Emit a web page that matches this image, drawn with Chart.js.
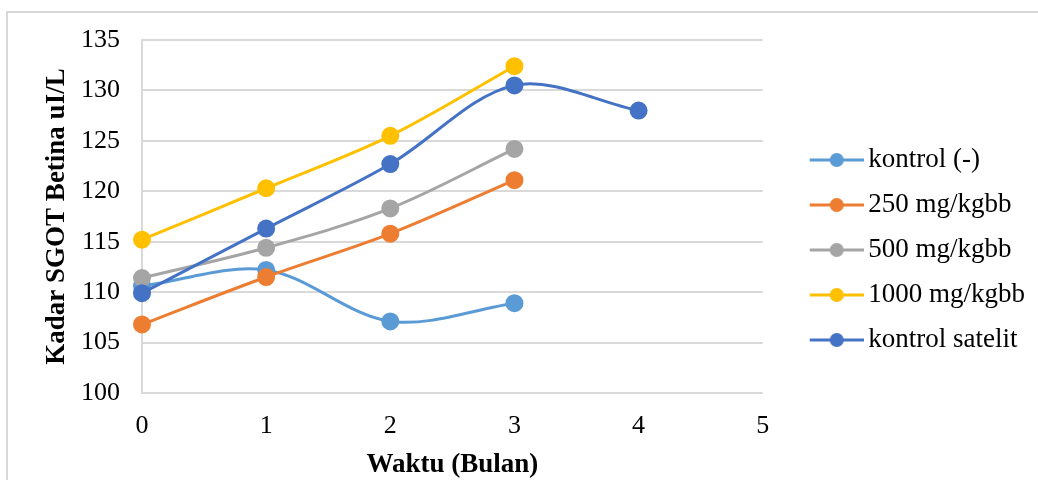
<!DOCTYPE html>
<html lang="en">
<head>
    <meta charset="UTF-8"/>
    <script src="https://cdn.jsdelivr.net/npm/chart.js@4.4.1/dist/chart.umd.min.js"></script>
    <title>Kadar SGOT Betina</title>
    <style>
        html, body { margin: 0; padding: 0; background: #fff; }
        #wrap { width: 1038px; height: 480px; }
    </style>
</head>
<body>
<div id="wrap"><canvas id="sgotChart" width="1038" height="480"></canvas></div>

<script>
    // data
    const months = ['0', '1', '2', '3', '4', '5'];
    const seriesNames = ['kontrol (-)', '250 mg/kgbb', '500 mg/kgbb', '1000 mg/kgbb', 'kontrol satelit'];
    const kontrolNeg = [110.6, 112.2, 107.1, 108.9];
    const dose250 = [106.8, 111.5, 115.8, 121.1];
    const dose500 = [111.4, 114.4, 118.3, 124.2];
    const dose1000 = [115.2, 120.3, 125.5, 132.4];
    const kontrolSatelit = [109.9, 116.3, 122.7, 130.5, 128.0];
    const yTicks = [100, 105, 110, 115, 120, 125, 130, 135];

    const colors = ['#5B9BD5', '#ED7D31', '#A5A5A5', '#FFC000', '#4472C4'];
    const FONT = "'Liberation Serif', 'Times New Roman', serif";

    // legend marker: line with dot, like excel
    function legendIcon(color) {
        const c = document.createElement('canvas');
        c.width = 92;
        c.height = 16;
        const g = c.getContext('2d');
        g.strokeStyle = color;
        g.lineWidth = 3;
        g.beginPath();
        g.moveTo(38, 8);
        g.lineTo(92, 8);
        g.stroke();
        g.fillStyle = color;
        g.beginPath();
        g.arc(65, 8, 7, 0, Math.PI * 2);
        g.fill();
        return c;
    }

    function makeSet(i, values) {
        return {
            label: seriesNames[i],
            data: values,
            borderColor: colors[i],
            backgroundColor: colors[i],
            pointBackgroundColor: colors[i],
            pointBorderColor: colors[i],
            pointRadius: 7.5,
            pointHoverRadius: 7.5,
            borderWidth: 3,
            tension: 0.33,
            order: 5 - i
        };
    }

    // grey frame (top + left edge)
    const framePlugin = {
        id: 'frame',
        beforeDraw(chart) {
            const ctx = chart.ctx;
            ctx.save();
            ctx.fillStyle = '#fff';
            ctx.fillRect(0, 0, chart.width, chart.height);
            ctx.strokeStyle = '#d9d9d9';
            ctx.lineWidth = 2;
            ctx.beginPath();
            ctx.moveTo(7, chart.height);
            ctx.lineTo(7, 12);
            ctx.lineTo(chart.width, 12);
            ctx.stroke();
            ctx.restore();
        }
    };

    const sgot = new Chart(document.getElementById('sgotChart'), {
        type: 'line',
        data: {
            labels: months,
            datasets: [
                makeSet(0, kontrolNeg),
                makeSet(1, dose250),
                makeSet(2, dose500),
                makeSet(3, dose1000),
                makeSet(4, kontrolSatelit)
            ]
        },
        options: {
            responsive: false,
            animation: false,
            layout: { padding: { left: 20, top: 40, right: 3, bottom: 20 } },
            plugins: {
                tooltip: { enabled: false },
                legend: {
                    position: 'right',
                    maxWidth: 300,
                    labels: {
                        usePointStyle: true,
                        pointStyleWidth: 74,
                        padding: 18,
                        color: '#000',
                        font: { family: FONT, size: 27 },
                        sort: (a, b) => a.datasetIndex - b.datasetIndex,
                        generateLabels(chart) {
                            const items = Chart.defaults.plugins.legend.labels.generateLabels(chart);
                            items.forEach(it => { it.pointStyle = legendIcon(colors[it.datasetIndex]); });
                            return items;
                        }
                    }
                }
            },
            scales: {
                x: {
                    type: 'category',
                    offset: false,
                    grid: { display: false, drawTicks: false },
                    border: { display: false },
                    ticks: {
                        color: '#000',
                        padding: 18,
                        maxRotation: 0,
                        font: { family: FONT, size: 26 }
                    },
                    title: {
                        display: true,
                        text: 'Waktu (Bulan)',
                        color: '#000',
                        padding: { top: 0, bottom: -21 },
                        font: { family: FONT, size: 27, weight: 'bold' }
                    },
                    afterFit(scale) { scale.height = 67; }
                },
                y: {
                    min: 100,
                    max: 135,
                    afterBuildTicks(scale) { scale.ticks = yTicks.map(v => ({ value: v })); },
                    grid: { color: '#d9d9d9', lineWidth: 2, drawTicks: false },
                    border: { display: true, color: '#d9d9d9', width: 2 },
                    ticks: {
                        color: '#000',
                        padding: 22,
                        font: { family: FONT, size: 26 }
                    },
                    title: {
                        display: true,
                        text: 'Kadar SGOT Betina uI/L',
                        color: '#000',
                        padding: { top: 21, bottom: 0 },
                        font: { family: FONT, size: 27, weight: 'bold' }
                    },
                    afterFit(scale) { scale.width = 122; }
                }
            }
        },
        plugins: [framePlugin]
    });
</script>
</body>
</html>
